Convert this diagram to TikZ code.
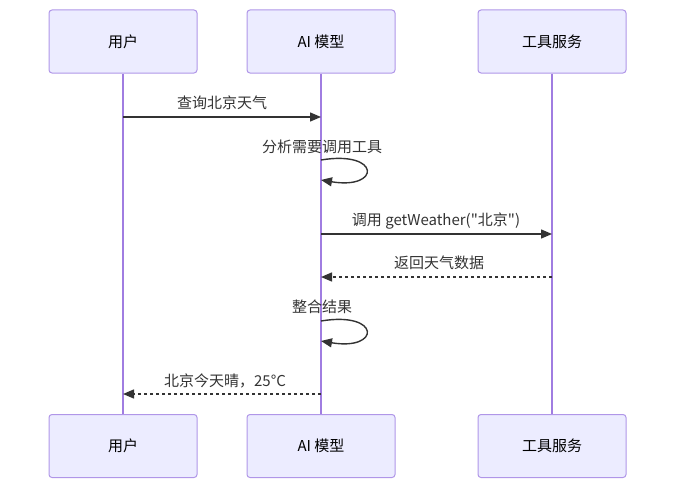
\documentclass[tikz,border=0pt]{standalone}
\usepackage{fontspec}
\setmainfont{Noto Sans CJK SC}[Ligatures=TeXOff]
\usetikzlibrary{arrows.meta}
\definecolor{actFill}{RGB}{236,236,255}
\definecolor{actLine}{RGB}{176,150,232}
\definecolor{lifeLine}{RGB}{160,125,225}
\definecolor{msgC}{RGB}{51,51,51}

\begin{document}
\begin{tikzpicture}[x=1pt,y=-1pt,>={Triangle[length=11pt,width=9pt]},
  actor/.style={draw=actLine,fill=actFill,rounded corners=3pt,line width=1pt,minimum width=148pt,minimum height=63pt,font=\fontsize{15}{18}\selectfont},
  msg/.style={msgC,line width=1.4pt,->},
  ret/.style={msg,dash pattern=on 3pt off 3pt},
  lbl/.style={msgC,font=\fontsize{15}{18}\selectfont,inner sep=0pt}]
\useasboundingbox (0,0) rectangle (684,495);
% actors, top and bottom
\node[actor] (uTop) at (123,41.5) {用户};  \node[actor] (uBot) at (123,446) {用户};
\node[actor] (mTop) at (321,41.5) {AI 模型}; \node[actor] (mBot) at (321,446) {AI 模型};
\node[actor] (tTop) at (552,41.5) {工具服务}; \node[actor] (tBot) at (552,446) {工具服务};
\foreach \a in {u,m,t} \draw[lifeLine,line width=1.5pt] (\a Top.south) -- (\a Bot.north);
% message points on the lifelines
\coordinate (u1) at (uTop |- 0,117); \coordinate (m1) at (mTop |- 0,117);
\coordinate (m2a) at (mTop |- 0,160); \coordinate (m2b) at (mTop |- 0,180);
\coordinate (m3) at (mTop |- 0,234); \coordinate (t3) at (tTop |- 0,234);
\coordinate (t4) at (tTop |- 0,277); \coordinate (m4) at (mTop |- 0,277);
\coordinate (m5a) at (mTop |- 0,321); \coordinate (m5b) at (mTop |- 0,341);
\coordinate (m6) at (mTop |- 0,394); \coordinate (u6) at (uTop |- 0,394);
% messages
\draw[msg] (u1) -- (m1); \node[lbl] (q1) at (222,103) {查询北京天气};
\draw[msg] (m2a) .. controls +(60,-10) and +(60,10) .. (m2b); \node[lbl] (q2) at (322,147) {分析需要调用工具};
\draw[msg] (m3) -- (t3); \node[lbl] (q3) at (436,221.5) {调用 getWeather("北京")};
\draw[ret] (t4) -- (m4); \node[lbl] (q4) at (439,263) {返回天气数据};
\draw[msg] (m5a) .. controls +(60,-10) and +(60,10) .. (m5b); \node[lbl] (q5) at (322,306.5) {整合结果};
\draw[ret] (m6) -- (u6); \node[lbl] (q6) at (225,381) {北京今天晴，25°C};
\end{tikzpicture}
\end{document}
